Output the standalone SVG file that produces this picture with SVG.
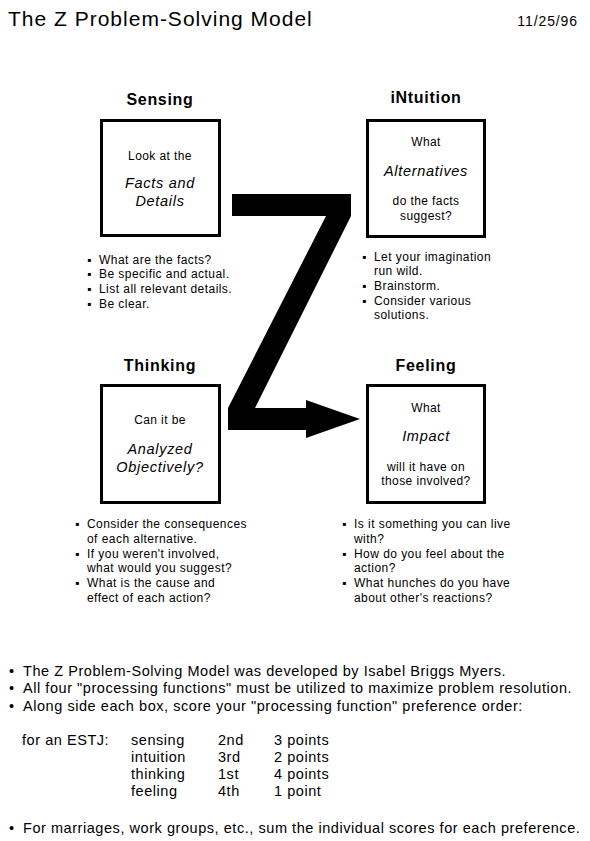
<svg xmlns="http://www.w3.org/2000/svg" width="590" height="841" viewBox="0 0 590 841">
<style>
text{font-family:"Liberation Sans",Arial,sans-serif;fill:#000}
.h{font-size:16px;font-weight:bold;text-anchor:middle;letter-spacing:0.7px}
.b{font-size:12px;text-anchor:middle;letter-spacing:0.4px}
.i{font-size:14.5px;font-style:italic;text-anchor:middle;letter-spacing:0.7px}
.l{font-size:12px;letter-spacing:0.45px}
.f{font-size:14.5px;letter-spacing:0.55px}
.box{fill:#fff;stroke:#000;stroke-width:3}
</style>
<rect width="590" height="841" fill="#fff"/>
<text x="8" y="26" style="font-size:21px;letter-spacing:1px">The Z Problem-Solving Model</text>
<text x="578" y="26" style="font-size:14px;text-anchor:end;letter-spacing:0.9px">11/25/96</text>

<g id="connectors">
<path d="M232,194 L351,194 L351,216 L255,408 L306,408 L306,400 L360,419 L306,438 L306,430 L228,430 L228,408 L326,216 L232,216 Z" fill="#000"/>
</g>

<g id="sensing">
<text class="h" x="160" y="105">Sensing</text>
<rect class="box" x="101.5" y="120.5" width="118" height="115"/>
<text class="b" x="160" y="160">Look at the</text>
<text class="i" x="160" y="188">Facts and</text>
<text class="i" x="160" y="206">Details</text>
<text class="l"><tspan x="87" y="264">▪</tspan><tspan x="99" y="264">What are the facts?</tspan><tspan x="87" y="278">▪</tspan><tspan x="99" y="278">Be specific and actual.</tspan><tspan x="87" y="293">▪</tspan><tspan x="99" y="293">List all relevant details.</tspan><tspan x="87" y="308">▪</tspan><tspan x="99" y="308">Be clear.</tspan></text>
</g>

<g id="intuition">
<text class="h" x="426" y="103">iNtuition</text>
<rect class="box" x="367.5" y="120.5" width="117" height="116"/>
<text class="b" x="426" y="146">What</text>
<text class="i" x="426" y="176">Alternatives</text>
<text class="b" x="426" y="205">do the facts</text>
<text class="b" x="426" y="220">suggest?</text>
<text class="l"><tspan x="362" y="261">▪</tspan><tspan x="374" y="261">Let your imagination</tspan><tspan x="374" y="275">run wild.</tspan><tspan x="362" y="290">▪</tspan><tspan x="374" y="290">Brainstorm.</tspan><tspan x="362" y="305">▪</tspan><tspan x="374" y="305">Consider various</tspan><tspan x="374" y="319">solutions.</tspan></text>
</g>

<g id="thinking">
<text class="h" x="160" y="371">Thinking</text>
<rect class="box" x="101.5" y="385.5" width="118" height="117"/>
<text class="b" x="160" y="424">Can it be</text>
<text class="i" x="160" y="454">Analyzed</text>
<text class="i" x="160" y="472">Objectively?</text>
<text class="l"><tspan x="75" y="528">▪</tspan><tspan x="87" y="528">Consider the consequences</tspan><tspan x="87" y="543">of each alternative.</tspan><tspan x="75" y="558">▪</tspan><tspan x="87" y="558">If you weren't involved,</tspan><tspan x="87" y="572">what would you suggest?</tspan><tspan x="75" y="587">▪</tspan><tspan x="87" y="587">What is the cause and</tspan><tspan x="87" y="602">effect of each action?</tspan></text>
</g>

<g id="feeling">
<text class="h" x="426" y="371">Feeling</text>
<rect class="box" x="367.5" y="385.5" width="117" height="117"/>
<text class="b" x="426" y="412">What</text>
<text class="i" x="426" y="441">Impact</text>
<text class="b" x="426" y="471">will it have on</text>
<text class="b" x="426" y="485">those involved?</text>
<text class="l"><tspan x="342" y="528">▪</tspan><tspan x="354" y="528">Is it something you can live</tspan><tspan x="354" y="543">with?</tspan><tspan x="342" y="558">▪</tspan><tspan x="354" y="558">How do you feel about the</tspan><tspan x="354" y="572">action?</tspan><tspan x="342" y="587">▪</tspan><tspan x="354" y="587">What hunches do you have</tspan><tspan x="354" y="602">about other's reactions?</tspan></text>
</g>

<g id="notes">
<text class="f"><tspan x="9" y="676">•</tspan><tspan x="23" y="676">The Z Problem-Solving Model was developed by Isabel Briggs Myers.</tspan><tspan x="9" y="693">•</tspan><tspan x="23" y="693">All four "processing functions" must be utilized to maximize problem resolution.</tspan><tspan x="9" y="711">•</tspan><tspan x="23" y="711">Along side each box, score your "processing function" preference order:</tspan></text>
<text class="f"><tspan x="22" y="745">for an ESTJ:</tspan><tspan x="131" y="745">sensing</tspan><tspan x="218" y="745">2nd</tspan><tspan x="274" y="745">3 points</tspan>
<tspan x="131" y="762">intuition</tspan><tspan x="218" y="762">3rd</tspan><tspan x="274" y="762">2 points</tspan>
<tspan x="131" y="779">thinking</tspan><tspan x="218" y="779">1st</tspan><tspan x="274" y="779">4 points</tspan>
<tspan x="131" y="796">feeling</tspan><tspan x="218" y="796">4th</tspan><tspan x="274" y="796">1 point</tspan></text>
<text class="f"><tspan x="9" y="833">•</tspan><tspan x="23" y="833">For marriages, work groups, etc., sum the individual scores for each preference.</tspan></text>
</g>
</svg>
